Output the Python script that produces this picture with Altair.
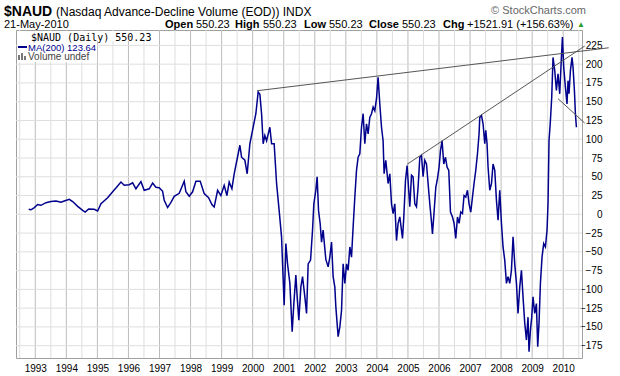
import altair as alt
import pandas as pd

# ---- data ----
years = [1992.788, 1992.862, 1992.968, 1993.077, 1993.183, 1993.344, 1993.505, 1993.666, 1993.827, 1993.933,
         1994.094, 1994.204, 1994.365, 1994.526, 1994.609, 1994.719, 1994.899, 1995.008, 1995.115, 1995.330,
         1995.491, 1995.597, 1995.758, 1995.864, 1996.025, 1996.135, 1996.241, 1996.402, 1996.508, 1996.669,
         1996.779, 1996.885, 1996.991, 1997.100, 1997.152, 1997.261, 1997.368, 1997.474, 1997.635, 1997.796,
         1997.850, 1997.957, 1998.066, 1998.172, 1998.311, 1998.439, 1998.581, 1998.687, 1998.761, 1998.871,
         1998.977, 1999.083, 1999.170, 1999.244, 1999.331, 1999.405, 1999.492, 1999.588, 1999.643, 1999.749,
         1999.823, 1999.910, 2000.016, 2000.103, 2000.177, 2000.232, 2000.287, 2000.338, 2000.393, 2000.448,
         2000.554, 2000.609, 2000.692, 2000.770, 2000.853, 2000.930, 2000.963, 2001.014, 2001.069, 2001.123,
         2001.198, 2001.272, 2001.326, 2001.391, 2001.433, 2001.487, 2001.552, 2001.606, 2001.680, 2001.735,
         2001.787, 2001.864, 2001.928, 2001.970, 2002.034, 2002.076, 2002.121, 2002.173, 2002.218, 2002.269,
         2002.356, 2002.430, 2002.485, 2002.540, 2002.591, 2002.646, 2002.678, 2002.752, 2002.807, 2002.862,
         2002.913, 2002.968, 2003.022, 2003.074, 2003.129, 2003.183, 2003.235, 2003.290, 2003.344, 2003.396,
         2003.450, 2003.505, 2003.557, 2003.611, 2003.666, 2003.718, 2003.772, 2003.827, 2003.879, 2003.933,
         2003.988, 2004.039, 2004.094, 2004.149, 2004.200, 2004.233, 2004.287, 2004.361, 2004.416, 2004.471,
         2004.522, 2004.577, 2004.632, 2004.683, 2004.738, 2004.825, 2004.867, 2004.921, 2004.973, 2005.018,
         2005.060, 2005.115, 2005.166, 2005.221, 2005.275, 2005.327, 2005.382, 2005.436, 2005.488, 2005.543,
         2005.597, 2005.649, 2005.704, 2005.758, 2005.790, 2005.842, 2005.897, 2005.951, 2006.003, 2006.048,
         2006.099, 2006.154, 2006.209, 2006.260, 2006.315, 2006.370, 2006.434, 2006.486, 2006.540, 2006.595,
         2006.647, 2006.701, 2006.756, 2006.807, 2006.862, 2006.917, 2006.968, 2007.023, 2007.078, 2007.129,
         2007.184, 2007.239, 2007.290, 2007.313, 2007.368, 2007.419, 2007.474, 2007.506, 2007.548, 2007.580,
         2007.635, 2007.690, 2007.741, 2007.796, 2007.850, 2007.902, 2007.956, 2008.011, 2008.063, 2008.117,
         2008.172, 2008.223, 2008.278, 2008.333, 2008.385, 2008.439, 2008.494, 2008.545, 2008.600, 2008.655,
         2008.706, 2008.761, 2008.816, 2008.867, 2008.899, 2008.945, 2008.986, 2009.028, 2009.083, 2009.137,
         2009.179, 2009.221, 2009.266, 2009.318, 2009.372, 2009.427, 2009.479, 2009.511, 2009.543, 2009.588,
         2009.630, 2009.672, 2009.727, 2009.781, 2009.833, 2009.888, 2009.942, 2009.975, 2010.016, 2010.071,
         2010.122, 2010.155, 2010.187, 2010.232, 2010.284, 2010.316, 2010.361, 2010.393, 2010.425]

values = [6.6, 6, 9, 13, 12, 15.5, 17, 17.7, 16, 17.7,
          20, 17, 10.6, 5.3, 3, 7, 6.6, 4.4, 14, 22,
          30, 35, 43, 38.6, 39.5, 42, 34, 43.5, 32, 34,
          41.6, 36, 35.5, 30.6, 18.6, 9, 16, 24, 28, 44,
          30, 24, 30, 44, 44, 27.5, 22, 13, 9.7, 32,
          25, 38.6, 25, 43, 34, 54, 72, 92, 76, 72,
          54, 94, 116, 134, 163, 160, 134, 94, 105, 98,
          116, 94, 94, 41, 5, -30, -66, -121, -39, -66,
          -92, -156.5, -119, -81, -110, -141, -97, -83, -110, -132,
          -66, -61, -21, 14, 32, 50, 5, -12, -37, -21,
          -60, -70, -57, -37, -83, -97, -123, -163, -150, -128,
          -66, -92, -66, -74.5, -43.5, -57, -17, 23, 58.5, 76,
          80.7, 116, 134, 94, 120.6, 107, 129, 134, 143, 138,
          154, 182.6, 147, 116, 98, 54, 72, 41, 54, 14,
          1, 14, -35, -12, -3.5, -32, -3.5, 45, 65, 36,
          10, 52, 50, 14, 10, 36, 76, 78.5, 50, 72,
          67, 41, 14, -10, -26, 3, 36, 47.5, 63, 85,
          98, 67, 76, 63, 58.5, 3, -3.5, -12, -32, -3.5,
          -12, 3, 1, 25, 23, 32, 14, 3, 23, 41,
          58.5, 80.7, 107, 129, 131.6, 120.6, 94, 112, 94, 63,
          32, 41, 67, 58.5, 18.6, -8, 32, -12, -43.5, -61,
          -92, -83, -92, -74.5, -30, -66, -92, -132, -97, -74.5,
          -110, -145, -167.5, -137, -183, -154, -137, -110, -132, -119,
          -176.5, -145, -92, -57, -39, -43.5, -21, 14, 98, 125,
          156, 209, 191.5, 165, 187, 160.5, 209, 236, 196, 169,
          147, 178, 160.5, 191.5, 209, 196, 165, 134, 116]

# trendlines (start / end)
trend_x1 = [2000.145, 2004.973, 2009.833]
trend_y1 = [164.6, 66.6, 154.0]
trend_x2 = [2011.465, 2010.692, 2010.692]
trend_y2 = [221.8, 224.2, 121.6]

year_labels = [1993, 1994, 1995, 1996, 1997, 1998, 1999, 2000, 2001, 2002,
               2003, 2004, 2005, 2006, 2007, 2008, 2009, 2010]
half_years = [1992.5, 1993.5, 1994.5, 1995.5, 1996.5, 1997.5, 1998.5, 1999.5, 2000.5,
              2001.5, 2002.5, 2003.5, 2004.5, 2005.5, 2006.5, 2007.5, 2008.5, 2009.5, 2010.5]
y_ticks = [-175, -150, -125, -100, -75, -50, -25, 0, 25, 50, 75, 100, 125, 150, 175, 200, 225]

df = pd.DataFrame({"yr": years, "val": values})
tdf = pd.DataFrame({"x1": trend_x1, "y1": trend_y1, "x2": trend_x2, "y2": trend_y2})
major_df = pd.DataFrame({"g": year_labels})
minor_df = pd.DataFrame({"g": half_years})
hgrid_df = pd.DataFrame({"h": y_ticks})
dummy = pd.DataFrame({"a": [0]})

FONT = "Liberation Sans"
LINE = "#00008c"
XDOM = [1992.379, 2010.605]
YDOM = [-191.4, 245.5]
W, H = 566, 328
OX, OY = 16, 30  # plot origin in page pixels

xscale = alt.Scale(domain=XDOM, nice=False, zero=False)
yscale = alt.Scale(domain=YDOM, nice=False, zero=False)

X_AX = alt.Axis(values=year_labels, title=None, ticks=False, domain=False, grid=False,
                format="d", labelOverlap=False, labelFlush=False, labelFontSize=10,
                labelFont=FONT, labelColor="#000", labelPadding=5)
Y_AX = alt.Axis(orient="right", values=y_ticks, title=None, ticks=False, domain=False,
                grid=False, labelAlign="right", labelBaseline="middle", labelPadding=20,
                labelOverlap=False, labelFlush=False,
                labelFontSize=10, labelFont=FONT, labelColor="#000")

vminor = alt.Chart(minor_df).mark_rule(color="#dedede", strokeWidth=1).encode(
    x=alt.X("g:Q", scale=xscale, axis=X_AX), y=alt.value(0), y2=alt.value(H))
vmajor = alt.Chart(major_df).mark_rule(color="#bcbcbc", strokeWidth=1).encode(
    x=alt.X("g:Q", scale=xscale, axis=X_AX), y=alt.value(0), y2=alt.value(H))
hgrid = alt.Chart(hgrid_df).mark_rule(color="#dedede", strokeWidth=1).encode(
    y=alt.Y("h:Q", scale=yscale, axis=Y_AX), x=alt.value(0), x2=alt.value(W))

line = alt.Chart(df).mark_line(color=LINE, strokeWidth=1.5).encode(
    x=alt.X("yr:Q", scale=xscale, axis=X_AX),
    y=alt.Y("val:Q", scale=yscale, axis=Y_AX),
)

trend = alt.Chart(tdf).mark_rule(color="#555555", strokeWidth=1).encode(
    x=alt.X("x1:Q", scale=xscale, axis=X_AX), x2="x2:Q",
    y=alt.Y("y1:Q", scale=yscale, axis=Y_AX), y2="y2:Q",
)


def rect(x1, x2, y1, y2, color):
    return alt.Chart(dummy).mark_rect(color=color).encode(
        x=alt.value(x1 - OX), x2=alt.value(x2 - OX), y=alt.value(y1 - OY), y2=alt.value(y2 - OY))


def txt(s, x, y, size=11, weight="normal", color="#000", align="left", font=FONT):
    return alt.Chart(dummy).mark_text(text=s, align=align, baseline="alphabetic", fontSize=size,
                                      fontWeight=weight, color=color, font=font).encode(
        x=alt.value(x - OX), y=alt.value(y - OY))


legend_bg = [rect(17, 97, 31, 62, "white"), rect(97, 156, 31, 41, "white")]

legend = [
    txt("$NAUD (Daily) 550.23", 31, 40.5, size=10, font="DejaVu Sans Mono"),
    alt.Chart(dummy).mark_rule(color=LINE, strokeWidth=2).encode(
        x=alt.value(18 - OX), x2=alt.value(27 - OX), y=alt.value(47 - OY)),
    txt("MA(200) 123.64", 28, 50.5, size=9.5, color=LINE),
    rect(18, 20, 55, 60, "#777"), rect(21, 23, 53, 60, "#777"), rect(24, 26, 56, 60, "#777"),
    txt("Volume undef", 28, 60, size=10, color="#444"),
]

header = [
    txt("$NAUD", 4, 16, size=14, weight="bold"),
    txt("(Nasdaq Advance-Decline Volume (EOD)) INDX", 56, 16, size=12),
    txt("\u00a9 StockCharts.com", 586, 14, size=11, color="#666", align="right"),
    txt("21-May-2010", 4, 28, size=11),
    txt("Open", 165, 28, size=11, weight="bold"), txt("550.23", 196, 28, size=11),
    txt("High", 235, 28, size=11, weight="bold"), txt("550.23", 263, 28, size=11),
    txt("Low", 304, 28, size=11, weight="bold"), txt("550.23", 329, 28, size=11),
    txt("Close", 369, 28, size=11, weight="bold"), txt("550.23", 402, 28, size=11),
    txt("Chg", 443, 28, size=11, weight="bold"), txt("+1521.91 (+156.63%)", 467, 28, size=11),
    txt("\u25b2", 577, 27, size=8, color="#2a9d2a"),
]

chart = alt.layer(vminor, vmajor, hgrid, line, trend, *legend_bg, *legend, *header).properties(
    width=W, height=H,
    padding={"left": OX, "top": OY, "right": 38, "bottom": 18},
    autosize=alt.AutoSizeParams(type="none"),
    background="white",
).configure_view(stroke="#a0a0a0", strokeWidth=1)

chart.save("out.html", embed_options={"renderer": "svg", "actions": False})
